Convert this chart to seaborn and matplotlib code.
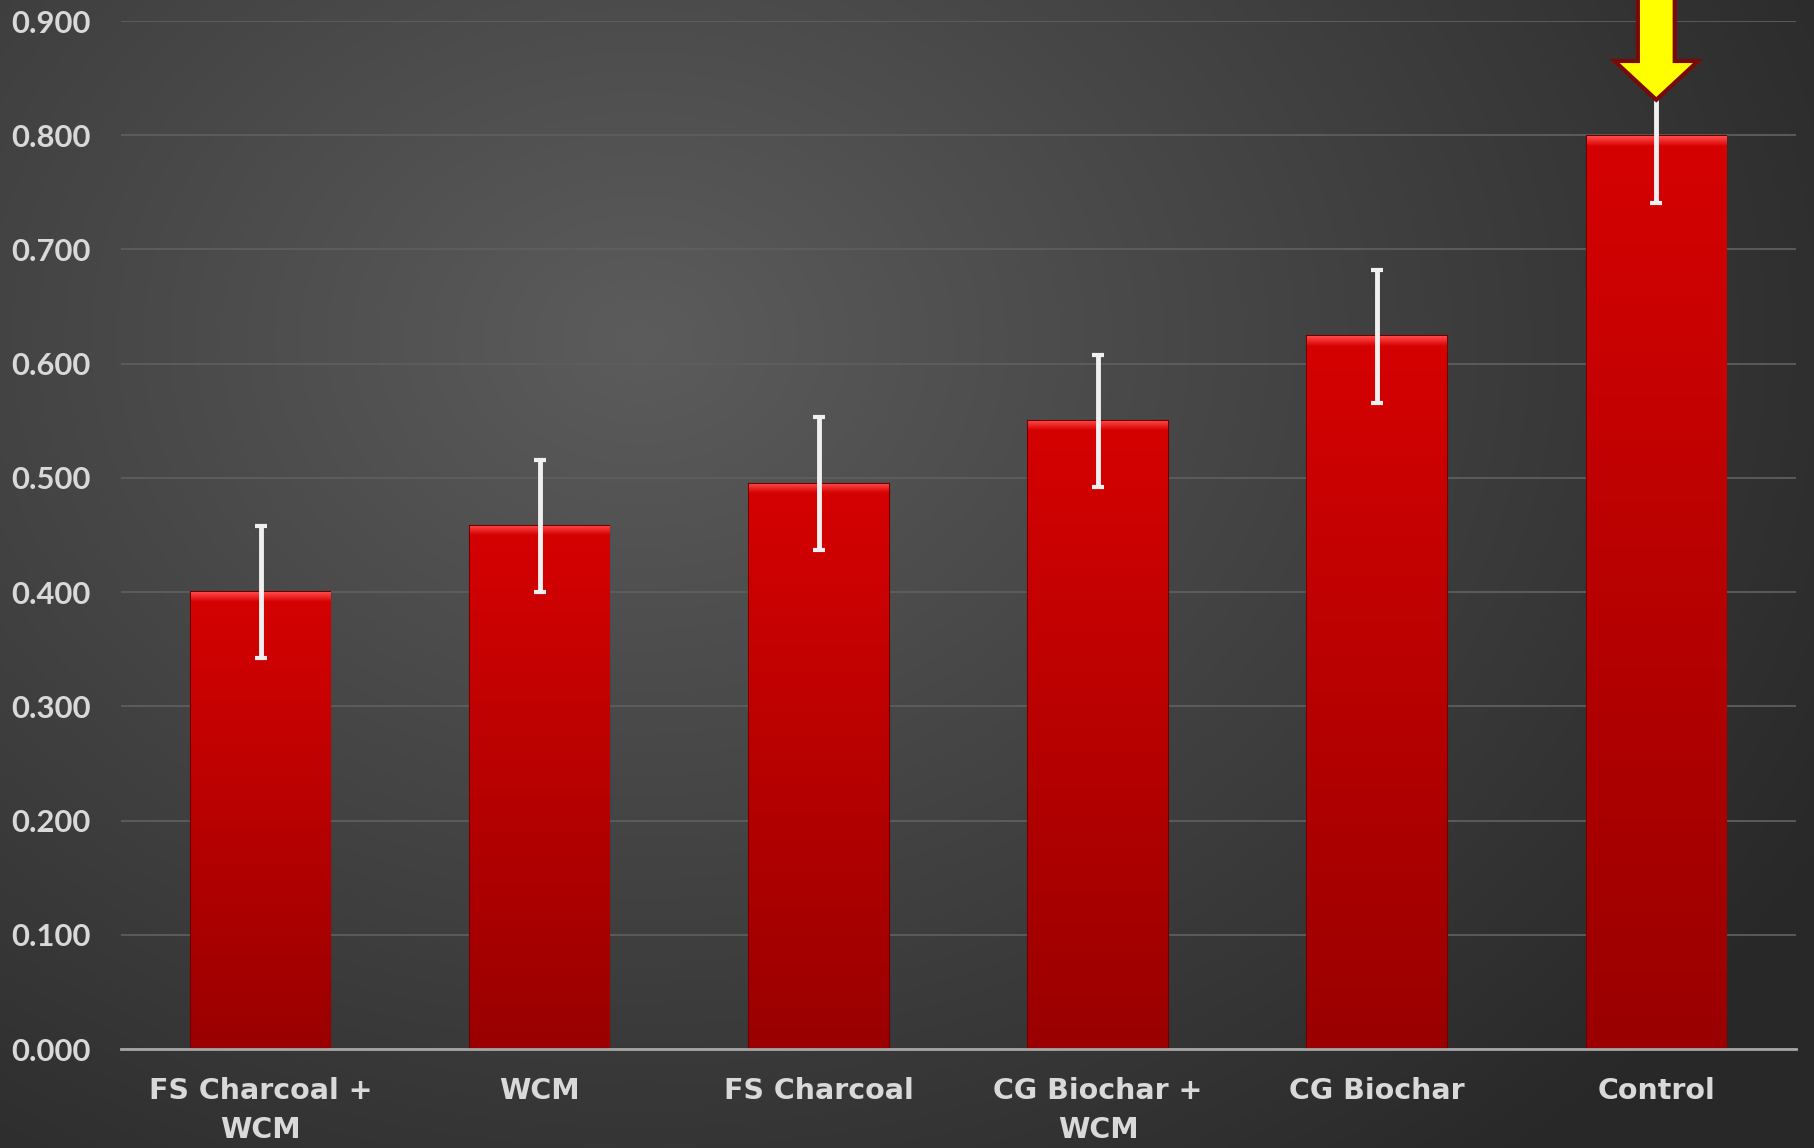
import numpy as np
import pandas as pd
import matplotlib
matplotlib.use("Agg")
import matplotlib.pyplot as plt
import seaborn as sns
from matplotlib.patches import Polygon

categories = ["FS Charcoal +\nWCM", "WCM", "FS Charcoal", "CG Biochar +\nWCM", "CG Biochar", "Control"]
values = [0.400, 0.458, 0.495, 0.550, 0.624, 0.799]
errors = [0.058, 0.058, 0.058, 0.058, 0.058, 0.058]
yticks = [0.0, 0.1, 0.2, 0.3, 0.4, 0.5, 0.6, 0.7, 0.8, 0.9]
highlight_index = 5

sns.set_theme(style="dark")
plt.rcParams['font.family'] = ['Lato', 'DejaVu Sans']

fig = plt.figure(figsize=(18.14, 11.48), dpi=100)

# background radial gradient
bg = fig.add_axes([0, 0, 1, 1], zorder=-10)
yy, xx = np.mgrid[0:1148, 0:1814]
cx, cy = 640, 340
d = np.sqrt(((xx - cx) / 1814.0) ** 2 + ((yy - cy) / 1148.0 * 0.8) ** 2)
d = np.clip(d / 0.75, 0, 1)
c0 = np.array([0x5c, 0x5c, 0x5c]) / 255.0
c1 = np.array([0x28, 0x28, 0x28]) / 255.0
img = c0[None, None, :] * (1 - d[..., None]) + c1[None, None, :] * d[..., None]
bg.imshow(img, aspect="auto", extent=[0, 1, 0, 1], origin="upper")
bg.set_axis_off()

ax = fig.add_axes([0.0667, 0.0862, 0.9233, 0.8955])
ax.patch.set_alpha(0)

df = pd.DataFrame({"cat": categories, "val": values})
sns.barplot(data=df, x="cat", y="val", color="#c00000", width=0.5, ax=ax,
            edgecolor="#700000", linewidth=1.5, zorder=3)

# gradient fill inside each bar
for p in ax.patches:
    x0, y0 = p.get_x(), p.get_y()
    w, h = p.get_width(), p.get_height()
    n = 400
    t = np.linspace(0, 1, n)  # 0 at top
    top = np.array([0xd6, 0x02, 0x02]) / 255.0
    bot = np.array([0x9a, 0x00, 0x00]) / 255.0
    col = top[None, :] * (1 - t[:, None]) + bot[None, :] * t[:, None]
    bev = 0.008 / h
    hl = np.array([0xff, 0x45, 0x45]) / 255.0
    m = t < bev
    k = (t[m] / bev)[:, None]
    col[m] = hl[None, :] * (1 - k) + col[m] * k
    gimg = col[:, None, :]
    im = ax.imshow(gimg, aspect="auto", extent=[x0, x0 + w, y0, y0 + h],
                   origin="upper", zorder=3.5, interpolation="bilinear")
    im.set_clip_path(p)

xs = np.arange(len(categories))
ax.errorbar(xs, values, yerr=errors, fmt="none", ecolor="#f0f0f0",
            elinewidth=3.5, capsize=4.5, capthick=3, zorder=5)

# highlight arrow
xc = xs[highlight_index]
sw, hw = 0.066, 0.15
tip, base, topy = 0.831, 0.865, 0.95
arrow = Polygon([[xc - sw, topy], [xc - sw, base], [xc - hw, base], [xc, tip],
                 [xc + hw, base], [xc + sw, base], [xc + sw, topy]],
                closed=True, facecolor="#ffff00", edgecolor="#7a0a0a",
                linewidth=3, zorder=6, clip_on=False)
ax.add_patch(arrow)

ax.set_ylim(0, 0.9)
ax.set_xlim(-0.5, len(categories) - 0.5)
ax.set_yticks(yticks)
ax.set_yticklabels([f"{v:.3f}" for v in yticks])
ax.yaxis.grid(True, color="#5e5e5e", linewidth=1.3, zorder=0)
ax.xaxis.grid(False)
ax.set_axisbelow(True)
for s in ["top", "right", "left"]:
    ax.spines[s].set_visible(False)
ax.spines["bottom"].set_color("#a6a6a6")
ax.spines["bottom"].set_linewidth(2)
ax.spines["bottom"].set_zorder(7)
ax.tick_params(axis="both", length=0, labelsize=22.3, labelcolor="#d9d9d9")
ax.tick_params(axis="y", pad=22)
ax.tick_params(axis="x", pad=20)
for lab in ax.get_yticklabels():
    lab.set_fontweight("bold")
for lab in ax.get_xticklabels():
    lab.set_fontfamily(["DejaVu Sans"])
    lab.set_fontweight("bold")
    lab.set_fontsize(20.5)
    lab.set_linespacing(1.5)
ax.set_xlabel("")
ax.set_ylabel("")

fig.savefig("out.png", dpi=100)
